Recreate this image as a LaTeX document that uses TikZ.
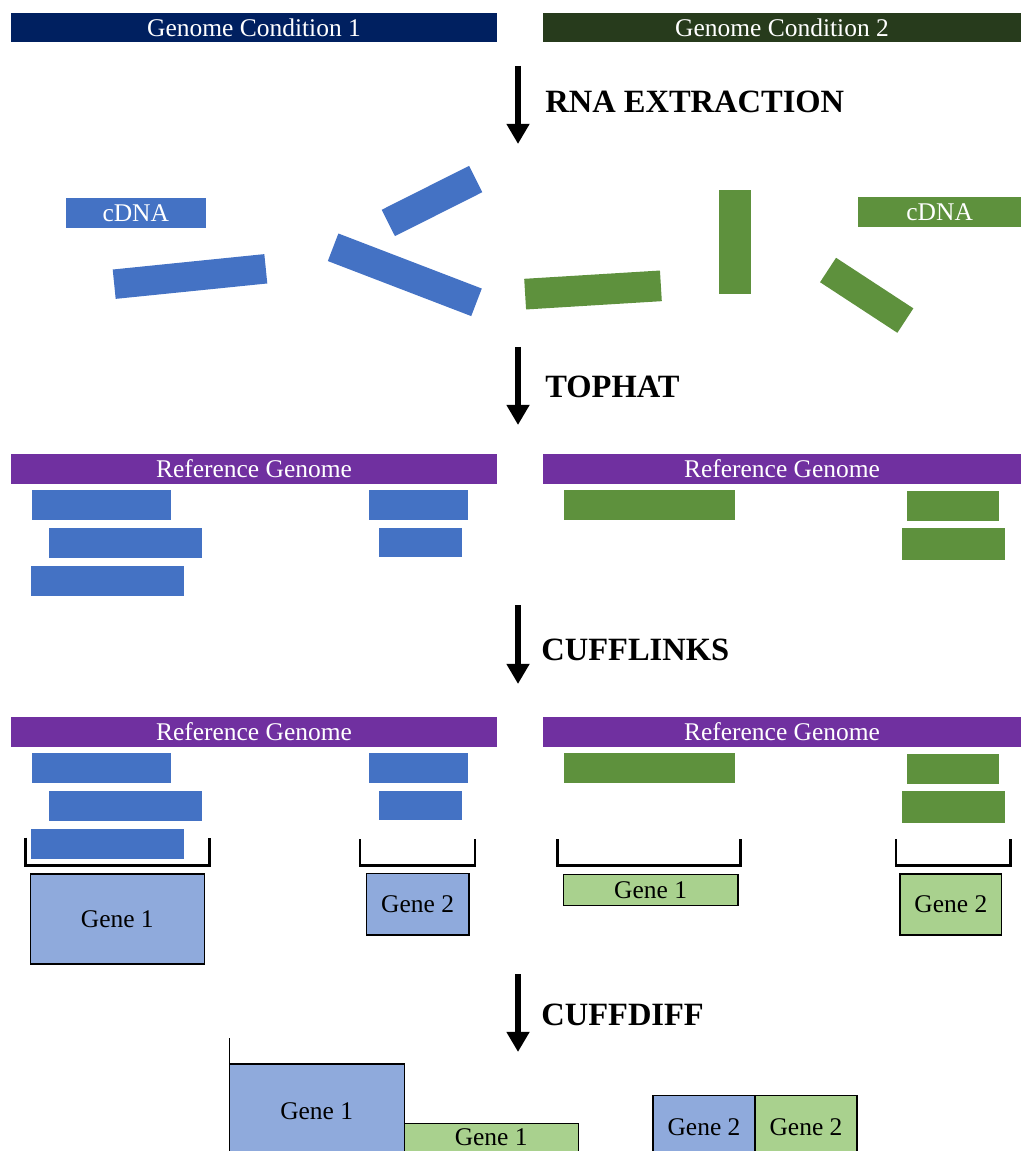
\documentclass[tikz,border=0pt]{standalone}
\usepackage{fontspec}
\setmainfont{Liberation Serif}
\usetikzlibrary{arrows.meta,positioning}

\definecolor{condblue}{HTML}{002060}
\definecolor{condgreen}{RGB}{39,59,28}
\definecolor{readblue}{HTML}{4472C4}
\definecolor{readgreen}{RGB}{94,145,61}
\definecolor{refpurple}{HTML}{7030A0}
\definecolor{geneblue}{HTML}{8FAADC}
\definecolor{genegreen}{HTML}{A9D18E}

\tikzset{
  px/.style 2 args={minimum width=#1*0.02cm, minimum height=#2*0.02cm},
  bar/.style={inner sep=0pt, outer sep=0pt, anchor=north west, text=white,
    font=\fontsize{14.5}{17}\selectfont},
  piece/.style={inner sep=0pt, outer sep=0pt},
  gene/.style={draw=black, line width=0.6pt, inner sep=0pt, outer sep=0pt,
    anchor=north west, font=\fontsize{14.5}{17}\selectfont},
  flow/.style={line width=3.1pt, -{Triangle[width=12.5pt,length=11.5pt]}},
  stage/.style={anchor=west, inner sep=0pt, font=\bfseries\fontsize{18.5}{22}\selectfont},
  bracket/.style={line width=1.5pt, line join=miter},
}

\begin{document}
\begin{tikzpicture}[x=0.02cm, y=-0.02cm]
\clip (0,0) rectangle (1021,1151);

% the two conditions
\node[bar, fill=condblue, px={486}{29}] (cond1) at (11,13) {Genome Condition 1};
\node[bar, fill=condgreen, px={478}{29}] (cond2) at (543,13) {Genome Condition 2};

% steps
\coordinate (s1) at (518,66);  \coordinate (e1) at (518,144);
\coordinate (s2) at (518,347); \coordinate (e2) at (518,425);
\coordinate (s3) at (518,605); \coordinate (e3) at (518,684);
\coordinate (s4) at (518,974); \coordinate (e4) at (518,1052);
\draw[flow] (s1) -- (e1);
\draw[flow] (s2) -- (e2);
\draw[flow] (s3) -- (e3);
\draw[flow] (s4) -- (e4);
\node[stage] (rna) at (545,102) {RNA EXTRACTION};
\node[stage] (tophat) at (545,387) {TOPHAT};
\node[stage] (cufflinks) at (541,650) {CUFFLINKS};
\node[stage] (cuffdiff) at (541,1015) {CUFFDIFF};

% cDNA fragments
\node[bar, fill=readblue, px={139.5}{30}] (cdna1) at (66,198) {cDNA};
\node[piece, fill=readblue, px={152.4}{29.5}, rotate=5.8] (fb1) at (190,276.5) {};
\node[piece, fill=readblue, px={97.8}{29.5}, rotate=26.7] (fb2) at (432,201) {};
\node[piece, fill=readblue, px={153.6}{29.5}, rotate=-21] (fb3) at (404.8,274.8) {};
%
\node[piece, fill=readgreen, px={136}{30.7}, rotate=3.5] (fg1) at (593,290) {};
\node[piece, fill=readgreen, px={32}{104}] (fg2) at (734.7,241.8) {};
\node[piece, fill=readgreen, px={92.4}{29.2}, rotate=-33.2] (fg3) at (866.7,295.3) {};
\node[bar, fill=readgreen, px={162.7}{30}] (cdna2) at (858.3,197.3) {cDNA};

% aligned reads, after tophat and again after cufflinks
\foreach \dy/\n in {0/a,263/b}{
  \node[bar, fill=refpurple, px={486}{29.5}] (ref1\n) at (11,454+\dy) {Reference Genome};
  \node[bar, fill=refpurple, px={478}{29.5}] (ref2\n) at (543,454+\dy) {Reference Genome};
  \fill[readblue] (32,489.5+\dy) rectangle (171.3,519.7+\dy);
  \fill[readblue] (49.3,527.7+\dy) rectangle (202,558+\dy);
  \fill[readblue] (31.3,565.7+\dy) rectangle (184.3,596+\dy);
  \fill[readblue] (369,489.7+\dy) rectangle (467.7,519.7+\dy);
  \fill[readblue] (379,527.7+\dy) rectangle (461.7,557.3+\dy);
  \fill[readgreen] (564.3,490.3+\dy) rectangle (735,520+\dy);
  \fill[readgreen] (907.3,490.7+\dy) rectangle (999.3,520.7+\dy);
  \fill[readgreen] (901.7,528.3+\dy) rectangle (1005,560+\dy);
}

% assembled genes
\draw[bracket] (25.3,837.7) -- (25.3,865.5) -- (209.3,865.5) -- (209.3,837.7);
\draw[bracket] (360,839.3) -- (360,865.5) -- (475,865.5) -- (475,839.3);
\draw[bracket] (557.3,839) -- (557.3,865.5) -- (740.7,865.5) -- (740.7,839);
\draw[bracket] (896,839) -- (896,865.5) -- (1010.7,865.5) -- (1010.7,839);
\node[gene, fill=geneblue, px={174}{90}] (gb1) at (30.3,874) {Gene 1};
\node[gene, fill=geneblue, px={102.7}{61.7}] (gb2) at (366.3,873.3) {Gene 2};
\node[gene, fill=genegreen, px={174.7}{31.4}] (gg1) at (563.3,874.3) {Gene 1};
\node[gene, fill=genegreen, px={101.7}{61}] (gg2) at (900,874) {Gene 2};

% differential expression
\draw[line width=0.6pt] (229.2,1038.3) -- (229.2,1151);
\node[gene, fill=geneblue, px={175}{94}] (db1) at (229.2,1064) {Gene 1};
\node[gene, fill=genegreen, px={174}{28}] (dg1) at (404.2,1123.3) {Gene 1};
\node[gene, fill=geneblue, px={102}{62}] (db2) at (653,1095.7) {Gene 2};
\node[gene, fill=genegreen, px={102}{62}] (dg2) at (755,1095.7) {Gene 2};
\end{tikzpicture}
\end{document}
